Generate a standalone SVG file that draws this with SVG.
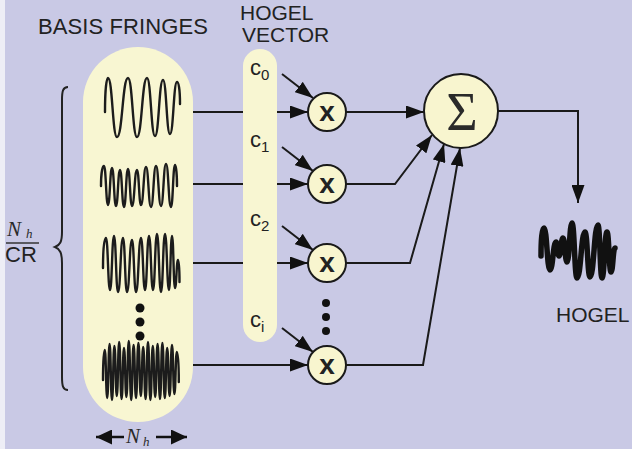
<svg xmlns="http://www.w3.org/2000/svg" width="632" height="449" viewBox="0 0 632 449">
<style>
.bg{fill:#c9c9e5}
.cream{fill:#f8f6d2}
.node{fill:#f8f5cf;stroke:#1a1a1a;stroke-width:2}
.wave{fill:none;stroke:#1c1c1c;stroke-width:2.4;stroke-linecap:round;stroke-linejoin:round}
.conn{fill:none;stroke:#1a1a1a;stroke-width:2}
.sans{font-family:"Liberation Sans",Arial,sans-serif;fill:#222}
.serif{font-family:"Liberation Serif","Times New Roman",serif;fill:#2a2a2a}
.dot{fill:#111}
</style>
<defs>
<marker id="ah" markerUnits="userSpaceOnUse" markerWidth="18" markerHeight="13" refX="18" refY="6.5" orient="auto">
<path d="M0,0 L18,6.5 L0,13 z" fill="#111"/>
</marker>
<marker id="ahs" markerUnits="userSpaceOnUse" markerWidth="16" markerHeight="15" refX="0" refY="7.5" orient="auto">
<path d="M0,7.5 L16,0 L16,15 z" fill="#111"/>
</marker>
<marker id="ahe" markerUnits="userSpaceOnUse" markerWidth="16" markerHeight="15" refX="16" refY="7.5" orient="auto">
<path d="M0,0 L16,7.5 L0,15 z" fill="#111"/>
</marker>
</defs>
<rect class="bg" x="0" y="0" width="632" height="449"/>
<rect x="0" y="0" width="5" height="449" fill="#eeeef6"/>

<text class="sans" x="38" y="34" font-size="22" textLength="170">BASIS FRINGES</text>
<text class="sans" x="240" y="20" font-size="21">HOGEL</text>
<text class="sans" x="242" y="42" font-size="21">VECTOR</text>

<g id="bracket">
<path d="M68,87 C63,87 62,91 62,100 L62,232 C62,242 60,245 55,247 C60,249 62,253 62,263 L62,377 C62,386 63,390 68,390" fill="none" stroke="#222" stroke-width="2"/>
<text class="serif" x="7" y="236" font-size="21" font-style="italic">N</text>
<text class="serif" x="26" y="238" font-size="13" font-style="italic">h</text>
<line x1="6" y1="243" x2="39" y2="243" stroke="#333" stroke-width="1.6"/>
<text class="sans" x="5" y="262" font-size="22">CR</text>
</g>

<g id="basis-fringes">
<rect class="cream" x="83" y="47" width="110" height="375" rx="55" ry="55"/>
<path class="wave" d="M105,112 C105,95 106,78 108,78 c4.5,0 4.5,59 9,59 c5.5,0 5.5,-59 11,-59 c4.5,0 4.5,59 9,59 c5,0 5,-59 10,-59 c4,0 4,58 8,58 c4,0 4,-56 8,-56 c3.5,0 3.5,54 7,54 c3.5,0 3.5,-52 7,-52 c2,0 3,10 3,22"/>
<path class="wave" d="M101,186 C101,176 102,166 104,166 c2,0 2,39 4,39 c2,0 2,-37 4,-37 c2,0 2,38 4,38 c2,0 2,-36 4,-36 c2,0 2,37 4,37 c2,0 2,-38 4,-38 c2,0 2,37 4,37 c2.5,0 2.5,-36 5,-36 c2,0 2,35 4,35 c2.5,0 2.5,-38 5,-38 c2.5,0 2.5,40 5,40 c2.5,0 2.5,-41 5,-41 c2.5,0 2.5,40 5,40 c2.5,0 2.5,-42 5,-42 c2.5,0 2.5,43 5,43 c2,0 2,-42 4,-42 c1,0 2,10 2,21"/>
<path class="wave" d="M103,268 C103,250 104,238 106,238 c2,0 2,52 4,52 c2,0 2,-54 4,-54 c2,0 2,56 4,56 c2.5,0 2.5,-54 5,-54 c2,0 2,54 4,54 c2.5,0 2.5,-52 5,-52 c2,0 2,52 4,52 c2.5,0 2.5,-54 5,-54 c2,0 2,52 4,52 c2,0 2,-54 4,-54 c2,0 2,54 4,54 c2,0 2,-56 4,-56 c2,0 2,58 4,58 c2,0 2,-58 4,-58 c2,0 2,56 4,56 c1.5,0 1.5,-54 3,-54 c1.5,0 1.5,52 3,52 c1.5,0 1.5,-28 3,-28 c1,0 1.5,10 1.5,22"/>
<path class="wave" d="M103,380 C103,362 104,350 104.8,350 c1.2,0 1.2,48 2.4,48 c1.2,0 1.2,-54 2.4,-54 c1.2,0 1.2,56 2.4,56 c1.2,0 1.2,-54 2.4,-54 c1.2,0 1.2,50 2.4,50 c1.2,0 1.2,-54 2.4,-54 c1.2,0 1.2,57 2.4,57 c1.2,0 1.2,-51 2.4,-51 c1.2,0 1.2,49 2.4,49 c1.2,0 1.2,-56 2.4,-56 c1.2,0 1.2,59 2.4,59 c1.2,0 1.2,-55 2.4,-55 c1.2,0 1.2,53 2.4,53 c1.2,0 1.2,-55 2.4,-55 c1.2,0 1.2,53 2.4,53 c1.2,0 1.2,-49 2.4,-49 c1.2,0 1.2,52 2.4,52 c1.2,0 1.2,-57 2.4,-57 c1.2,0 1.2,58 2.4,58 c1.2,0 1.2,-54 2.4,-54 c1.2,0 1.2,51 2.4,51 c1.2,0 1.2,-53 2.4,-53 c1.2,0 1.2,55 2.4,55 c1.2,0 1.2,-56 2.4,-56 c1.2,0 1.2,55 2.4,55 c1.2,0 1.2,-50 2.4,-50 c1.2,0 1.2,48 2.4,48 c1.2,0 1.2,-51 2.4,-51 c1.2,0 1.2,49 2.4,49 c1.2,0 1.2,-42 2.4,-42 c1.5,0 2,15 2,30"/>
<circle class="dot" cx="140" cy="308" r="4.5"/>
<circle class="dot" cx="140" cy="322" r="4.5"/>
<circle class="dot" cx="140" cy="336" r="4.5"/>
</g>

<g id="width-label">
<line x1="96" y1="437" x2="124" y2="437" stroke="#111" stroke-width="2.5" marker-start="url(#ahs)"/>
<line x1="156" y1="437" x2="187" y2="437" stroke="#111" stroke-width="2.5" marker-end="url(#ahe)"/>
<text class="serif" x="126" y="443" font-size="21" font-style="italic">N</text>
<text class="serif" x="143" y="446" font-size="13" font-style="italic">h</text>
</g>

<g id="connectors">
<line class="conn" x1="193" y1="112" x2="308" y2="112" marker-end="url(#ah)"/>
<line class="conn" x1="193" y1="184" x2="308" y2="184" marker-end="url(#ah)"/>
<line class="conn" x1="193" y1="263" x2="308" y2="263" marker-end="url(#ah)"/>
<line class="conn" x1="193" y1="365" x2="308" y2="365" marker-end="url(#ah)"/>
<line class="conn" x1="282" y1="74" x2="313" y2="98" marker-end="url(#ah)"/>
<line class="conn" x1="282" y1="147" x2="313" y2="171" marker-end="url(#ah)"/>
<line class="conn" x1="282" y1="226" x2="313" y2="250" marker-end="url(#ah)"/>
<line class="conn" x1="282" y1="328" x2="313" y2="352" marker-end="url(#ah)"/>
<line class="conn" x1="346" y1="112" x2="424" y2="112" marker-end="url(#ah)"/>
<polyline class="conn" points="346,184 395,184 432,135" marker-end="url(#ah)"/>
<polyline class="conn" points="346,263 410,263 444,144" marker-end="url(#ah)"/>
<polyline class="conn" points="346,365 423,365 460,148" marker-end="url(#ah)"/>
<polyline class="conn" points="498,111 578,111 578,203" marker-end="url(#ah)"/>
</g>

<g id="hogel-vector">
<rect class="cream" x="243" y="49" width="34" height="293" rx="17" ry="17"/>
<text class="sans" x="250" y="75" font-size="22">c<tspan font-size="15" dy="5">0</tspan></text>
<text class="sans" x="250" y="147" font-size="22">c<tspan font-size="15" dy="5">1</tspan></text>
<text class="sans" x="250" y="226" font-size="22">c<tspan font-size="15" dy="5">2</tspan></text>
<text class="sans" x="250" y="327" font-size="22">c<tspan font-size="15" dy="5">i</tspan></text>
</g>

<g id="mult-0"><circle class="node" cx="327" cy="112" r="19"/><text class="sans" x="327" y="121" font-size="28" font-weight="bold" text-anchor="middle" fill="#111">x</text></g>
<g id="mult-1"><circle class="node" cx="327" cy="184" r="19"/><text class="sans" x="327" y="193" font-size="28" font-weight="bold" text-anchor="middle" fill="#111">x</text></g>
<g id="mult-2"><circle class="node" cx="327" cy="263" r="19"/><text class="sans" x="327" y="272" font-size="28" font-weight="bold" text-anchor="middle" fill="#111">x</text></g>
<g id="mult-dots">
<circle class="dot" cx="326" cy="303" r="4"/>
<circle class="dot" cx="326" cy="317" r="4"/>
<circle class="dot" cx="326" cy="331" r="4"/>
</g>
<g id="mult-i"><circle class="node" cx="327" cy="365" r="19"/><text class="sans" x="327" y="374" font-size="28" font-weight="bold" text-anchor="middle" fill="#111">x</text></g>

<g id="sum"><circle class="node" cx="461" cy="111" r="37"/><text class="serif" x="462" y="130" font-size="54" text-anchor="middle" fill="#111">Σ</text></g>

<g id="hogel">
<path d="M541,256 C541,240 542,228 544,228 c3,0 3,42 6,42 c3,0 3,-28 6,-28 c1.5,0 1.5,14 3,14 c2,0 2,-18 4,-18 c2,0 2,24 4,24 c2.5,0 2.5,-39 5,-39 c2.5,0 2.5,55 5,55 c4,0 4,-46 8,-46 c2.5,0 2.5,45 5,45 c4,0 4,-52 8,-52 c2,0 2,53 4,53 c2.5,0 2.5,-46 5,-46 c2,0 2,40 4,40 c2,0 2,-24 4,-24" fill="none" stroke="#111" stroke-width="5.5" stroke-linecap="round" stroke-linejoin="round"/>
<text class="sans" x="556" y="322" font-size="21">HOGEL</text>
</g>
</svg>
